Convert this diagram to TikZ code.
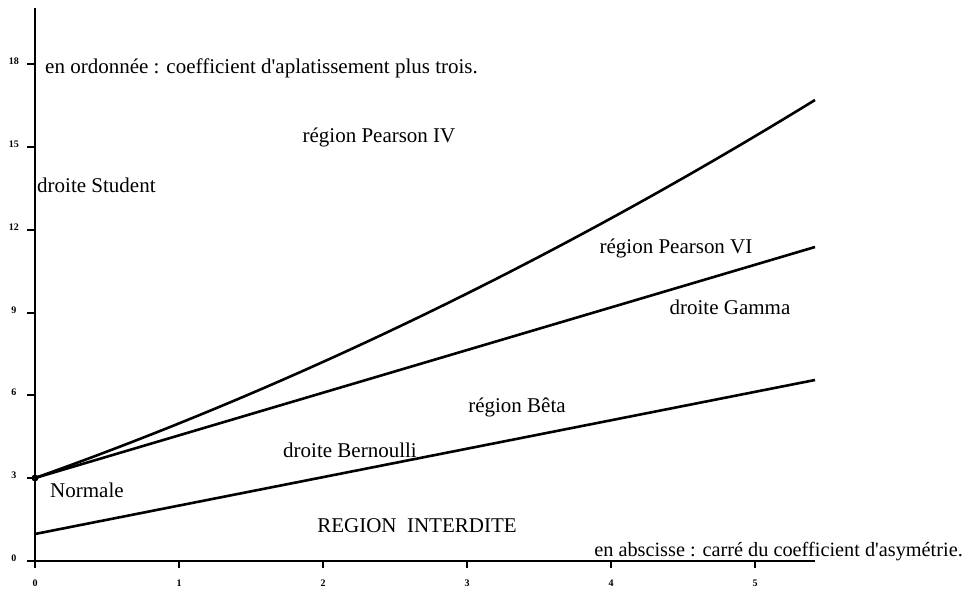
\documentclass[tikz,border=0pt]{standalone}
\usepackage{fontspec}
\setmainfont{Liberation Serif}[Ligatures=TeXOff]
\begin{document}
\begin{tikzpicture}[x=1pt,y=-1pt,
  lbl/.style={font=\fontsize{21}{23}\selectfont, inner sep=0pt},
  tlbl/.style={font=\fontsize{10}{11}\selectfont\bfseries, inner sep=0pt},
  ax/.style={line width=2.8pt},
  crv/.style={line width=2.6pt},
  tk/.style={line width=2.4pt}]
\useasboundingbox (0,0) rectangle (975,589);
% axes
\coordinate (ytop) at (35,8);
\coordinate (ybot) at (35,567);
\coordinate (xl) at (27,561);
\coordinate (xr) at (815,561);
\draw[ax] (ytop) -- (ybot);
\draw[ax] (xl) -- (xr);
% y ticks
\foreach \v/\y in {18/64,15/147,12/230,9/313,6/395,3/478,0/561}{
  \coordinate (yt\v) at (35,\y);
  \draw[tk] (yt\v) -- ++(-8,0);
  \node[tlbl] (yl\v) at (14,\y-3) {\v};
}
% x ticks
\foreach \v/\x in {0/35,1/179,2/323,3/467,4/611,5/755}{
  \coordinate (xt\v) at (\x,561);
  \draw[tk] (xt\v) -- ++(0,7);
  \node[tlbl] (xl\v) at (\x,583) {\v};
}
% points
\coordinate (N) at (35,478);
\coordinate (B0) at (35,534);
\coordinate (Gend) at (815,247);
\coordinate (Bend) at (815,380);
\coordinate (Vend) at (815,100);
\draw[crv] (N) .. controls (295,385.6) and (555,259.6) .. (Vend);
\draw[crv] (N) -- (Gend);
\draw[crv] (B0) -- (Bend);
\fill (N) circle (3.5);
% labels
\node[lbl, anchor=west] (ord) at (45,68) {en ordonnée : coefficient d'aplatissement plus trois.};
\node[lbl] (p4) at (379,137) {région Pearson IV};
\node[lbl, anchor=west] (stu) at (37,185) {droite Student};
\node[lbl] (p6) at (676,248) {région Pearson VI};
\node[lbl] (gam) at (730,307) {droite Gamma};
\node[lbl] (beta) at (517,407) {région Bêta};
\node[lbl] (ber) at (350,450) {droite Bernoulli};
\node[lbl, anchor=west] (nor) at (50,490) {Normale};
\node[lbl] (ri) at (417,526) {REGION\ \ INTERDITE};
\node[lbl, anchor=east, font=\fontsize{20.3}{22}\selectfont] (abs) at (963,552) {en abscisse : carré du coefficient d'asymétrie.};
\end{tikzpicture}
\end{document}
